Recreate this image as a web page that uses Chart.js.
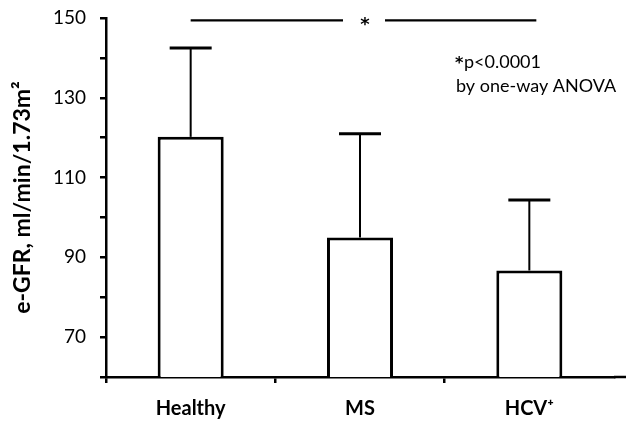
<!DOCTYPE html>
<html>
<head>
<meta charset="utf-8">
<script src="https://cdn.jsdelivr.net/npm/chart.js@4.4.0/dist/chart.umd.min.js"></script>
<style>
  html, body { margin: 0; padding: 0; background: #fff; }
  #wrap { width: 626px; height: 421px; }
</style>
</head>
<body>
<div id="wrap"><canvas id="myChart" width="626" height="421"></canvas></div>
<script>
const groups = ['Healthy', 'MS', 'HCV⁺'];
const meanGFR = [120.2, 95.0, 86.7];
const sdUpper = [142.5, 121.0, 104.4];
const sigLevel = 149.4;
const yTickLabels = [70, 90, 110, 130, 150];
const noteLines = ['p<0.0001', 'by one-way ANOVA'];

const black = '#000';

// error bars (upper only), significance bar and note
const extras = {
    id: 'extras',
    afterDatasetsDraw(chart) {
        const c = chart.ctx;
        const x = chart.scales.x, y = chart.scales.y;
        c.save();
        c.strokeStyle = black;
        meanGFR.forEach((m, i) => {
            const px = x.getPixelForValue(i);
            const top = y.getPixelForValue(sdUpper[i]);
            const base = y.getPixelForValue(m);
            c.lineWidth = 2;
            c.beginPath();
            c.moveTo(px, base);
            c.lineTo(px, top);
            c.stroke();
            c.lineWidth = 3;
            c.beginPath();
            c.moveTo(px - 21, top);
            c.lineTo(px + 21, top);
            c.stroke();
        });

        // significance line across groups
        const sy = y.getPixelForValue(sigLevel);
        const x0 = x.getPixelForValue(0);
        const x2 = x.getPixelForValue(2);
        const mid = 365;
        c.lineWidth = 2.2;
        c.beginPath();
        c.moveTo(x0, sy); c.lineTo(mid - 22, sy);
        c.moveTo(mid + 20, sy); c.lineTo(x2 + 7, sy);
        c.stroke();
        c.fillStyle = black;
        c.font = 'bold 18px "DejaVu Sans"';
        c.textAlign = 'center';
        c.textBaseline = 'middle';
        c.fillText('*', mid, sy + 5);

        // note text
        c.textAlign = 'left';
        c.textBaseline = 'alphabetic';
        c.font = 'bold 16px "DejaVu Sans"';
        c.fillText('*', 455, 68);
        c.font = '18px Lato';
        c.fillText(noteLines[0], 464, 68);
        c.fillText(noteLines[1], 456, 92);

        // x axis line runs on to the picture edge
        c.lineWidth = 2.5;
        c.beginPath();
        c.moveTo(chart.chartArea.right, y.bottom);
        c.lineTo(chart.width, y.bottom);
        c.stroke();
        c.restore();
    }
};

const ctx = document.getElementById('myChart').getContext('2d');

const myChart = new Chart(ctx, {
    type: 'bar',
    data: {
        labels: groups,
        datasets: [{
            data: meanGFR,
            backgroundColor: '#fff',
            borderColor: black,
            borderWidth: 3,
            borderSkipped: 'bottom',
            barPercentage: 0.39,
            categoryPercentage: 1
        }]
    },
    options: {
        responsive: false,
        animation: false,
        layout: { padding: { top: 18, right: 12, left: 0, bottom: 0 } },
        plugins: {
            legend: { display: false },
            tooltip: { enabled: false }
        },
        scales: {
            x: {
                offset: true,
                grid: {
                    offset: true,
                    drawOnChartArea: false,
                    drawTicks: true,
                    tickLength: 6,
                    lineWidth: 2.5,
                    color: c => c.type === 'tick' ? black : 'rgba(0,0,0,0)'
                },
                border: { display: true, color: black, width: 2.5 },
                ticks: {
                    color: black,
                    padding: 14,
                    font: { family: 'Lato', size: 20, weight: 'bold' }
                },
                afterFit: s => { s.height = 44; s.paddingLeft = 0; s.paddingRight = 0; }
            },
            y: {
                min: 60,
                max: 150,
                ticks: {
                    stepSize: 10,
                    color: black,
                    padding: 14,
                    font: { family: 'Lato', size: 19 },
                    callback: v => yTickLabels.includes(v) ? String(v) : ''
                },
                grid: {
                    drawOnChartArea: false,
                    drawTicks: true,
                    tickLength: 6,
                    lineWidth: 2.5,
                    color: black
                },
                border: { display: true, color: black, width: 2.5 },
                title: {
                    display: true,
                    text: 'e-GFR, ml/min/1.73m²',
                    color: black,
                    padding: { top: 9, bottom: 0 },
                    font: { family: 'Lato', size: 23, weight: 'bold' }
                },
                afterFit: s => { s.width = 106; s.paddingTop = 0; s.paddingBottom = 0; }
            }
        }
    },
    plugins: [extras]
});
</script>
</body>
</html>
